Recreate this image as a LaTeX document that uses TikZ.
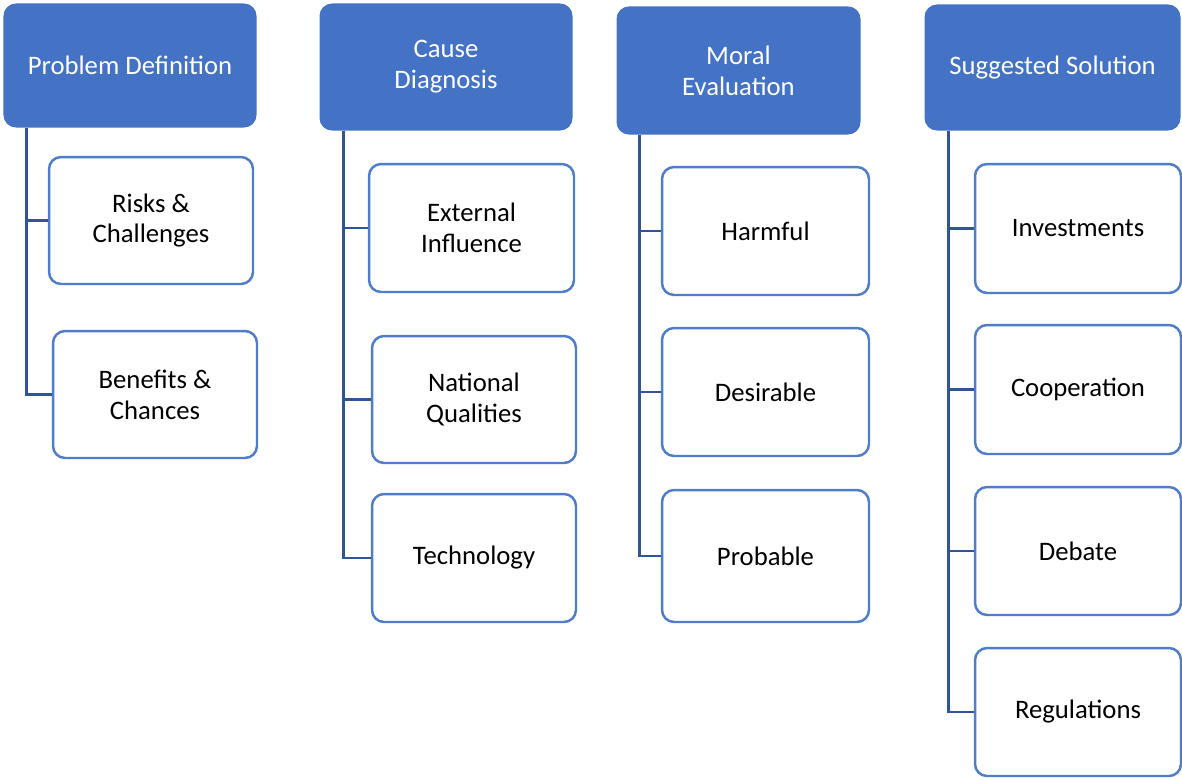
\documentclass[tikz,border=0pt]{standalone}
\usepackage{fontspec}
\setmainfont{Carlito}
\usetikzlibrary{positioning}
\definecolor{hdblue}{HTML}{4472C4}
\definecolor{bdblue}{HTML}{4F7DC9}
\definecolor{lnblue}{HTML}{2F5597}
\tikzset{
    headnode/.style = {rectangle, rounded corners=0.24cm, draw=hdblue, fill=hdblue, align=center, text=white, font=\fontsize{15.2}{17.6}\selectfont, line width=0.6pt},
    itemnode/.style = {rectangle, rounded corners=0.24cm, draw=bdblue, fill=white, align=center, text=black, font=\fontsize{15.2}{17.6}\selectfont, line width=1.4pt},
    edgen/.style = {-, line width=1.5pt, lnblue}
}

\begin{document}
\begin{tikzpicture}[x=0.02cm, y=-0.02cm]
  \useasboundingbox (0,0) rectangle (1182,779);

  % headers
  \node[headnode, minimum width=5.04cm, minimum height=2.46cm] (pd) at (130,65.5) {Problem Definition};
  \node[headnode, minimum width=5.04cm, minimum height=2.52cm] (cd) at (446,67) {Cause\\Diagnosis};
  \node[headnode, minimum width=4.86cm, minimum height=2.54cm] (me) at (738.5,70.5) {Moral\\Evaluation};
  \node[headnode, minimum width=5.1cm, minimum height=2.5cm] (ss) at (1052.5,67.5) {Suggested Solution};

  % problem definition
  \node[itemnode, minimum width=4.08cm, minimum height=2.54cm] (risks) at (151,220.5) {Risks \&\\Challenges};
  \node[itemnode, minimum width=4.08cm, minimum height=2.54cm] (benefits) at (155,394.5) {Benefits \&\\Chances};

  % cause diagnosis
  \node[itemnode, minimum width=4.1cm, minimum height=2.56cm] (external) at (471.5,228) {External\\Influence};
  \node[itemnode, minimum width=4.08cm, minimum height=2.54cm] (national) at (474,399.5) {National\\Qualities};
  \node[itemnode, minimum width=4.08cm, minimum height=2.56cm] (technology) at (474,558) {Technology};

  % moral evaluation
  \node[itemnode, minimum width=4.14cm, minimum height=2.56cm] (harmful) at (765.5,231) {Harmful};
  \node[itemnode, minimum width=4.14cm, minimum height=2.56cm] (desirable) at (765.5,392) {Desirable};
  \node[itemnode, minimum width=4.14cm, minimum height=2.64cm] (probable) at (765.5,556) {Probable};

  % suggested solution
  \node[itemnode, minimum width=4.12cm, minimum height=2.58cm] (investments) at (1078,228.5) {Investments};
  \node[itemnode, minimum width=4.12cm, minimum height=2.58cm] (cooperation) at (1078,389.5) {Cooperation};
  \node[itemnode, minimum width=4.12cm, minimum height=2.56cm] (debate) at (1078,551) {Debate};
  \node[itemnode, minimum width=4.12cm, minimum height=2.56cm] (regulations) at (1078,712) {Regulations};

  % connectors
  \draw[edgen] ([xshift=0.46cm]pd.south west) |- (risks.west);
  \draw[edgen] ([xshift=0.46cm]pd.south west) |- (benefits.west);
  \draw[edgen] ([xshift=0.48cm]cd.south west) |- (external.west);
  \draw[edgen] ([xshift=0.48cm]cd.south west) |- (national.west);
  \draw[edgen] ([xshift=0.48cm]cd.south west) |- (technology.west);
  \draw[edgen] ([xshift=0.46cm]me.south west) |- (harmful.west);
  \draw[edgen] ([xshift=0.46cm]me.south west) |- (desirable.west);
  \draw[edgen] ([xshift=0.46cm]me.south west) |- (probable.west);
  \draw[edgen] ([xshift=0.48cm]ss.south west) |- (investments.west);
  \draw[edgen] ([xshift=0.48cm]ss.south west) |- (cooperation.west);
  \draw[edgen] ([xshift=0.48cm]ss.south west) |- (debate.west);
  \draw[edgen] ([xshift=0.48cm]ss.south west) |- (regulations.west);
\end{tikzpicture}
\end{document}
